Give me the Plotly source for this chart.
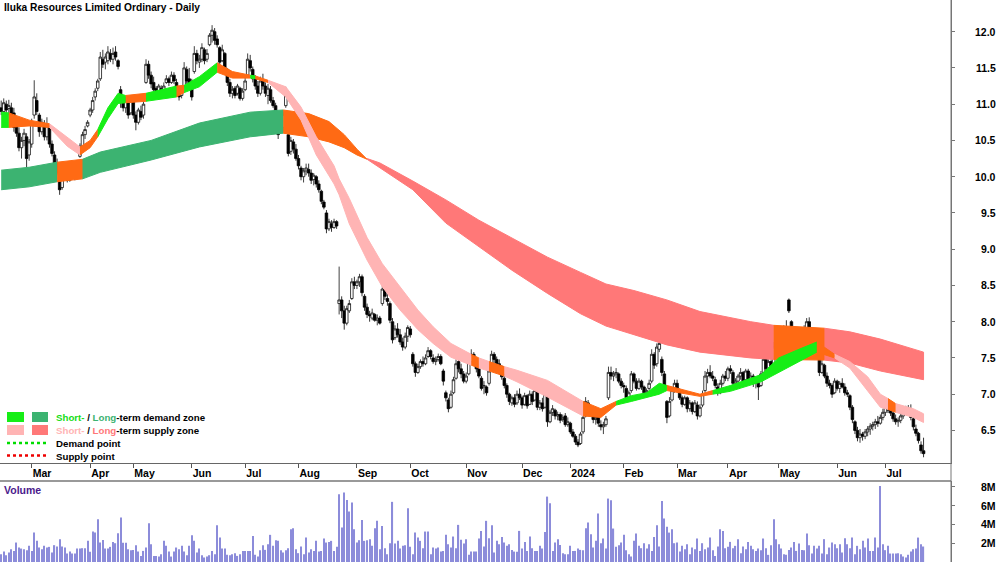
import pandas as pd
import plotly.graph_objects as go

W, H = 1000, 562

# ---------------- daily prices (session 0 = 13 Feb 2023) ----------------
opens = [
    10.95, 10.90, 11.00, 10.94, 10.95, 10.88, 10.70, 10.60, 10.40, 10.50,
    10.55, 10.30, 10.45, 10.85, 11.05, 10.85, 10.62, 10.72, 10.55, 10.68,
    10.45, 10.30, 10.18, 10.00, 9.85, 10.05, 10.02, 9.95, 10.10, 10.00,
    10.08, 10.28, 10.42, 10.58, 10.70, 10.85, 10.92, 11.10, 11.22, 11.35,
    11.62, 11.58, 11.60, 11.70, 11.62, 11.72, 11.60, 11.20, 11.05, 10.95,
    11.02, 10.88, 11.05, 10.85, 10.75, 10.90, 10.85, 11.30, 11.55, 11.40,
    11.30, 11.22, 11.15, 11.22, 11.12, 11.30, 11.35, 11.30, 11.40, 11.30,
    11.15, 11.12, 11.25, 11.48, 11.35, 11.28, 11.45, 11.70, 11.58, 11.62,
    11.75, 11.62, 11.82, 11.95, 12.00, 11.90, 11.78, 11.60, 11.70, 11.48,
    11.30, 11.15, 11.22, 11.15, 11.22, 11.08, 11.20, 11.40, 11.60, 11.48,
    11.35, 11.25, 11.15, 11.32, 11.25, 11.12, 11.20, 11.05, 10.98, 10.75,
    10.62, 10.68, 10.98, 10.58, 10.35, 10.48, 10.38, 10.25, 10.12, 10.00,
    10.08, 10.10, 10.05, 9.96, 10.00, 9.90, 9.80, 9.65, 9.50, 9.28,
    9.35, 9.30, 9.38, 8.25, 8.30, 8.15, 7.98, 8.15, 8.32, 8.55,
    8.50, 8.55, 8.62, 8.35, 8.20, 8.10, 8.05, 8.10, 8.02, 8.05,
    8.25, 8.45, 8.32, 8.25, 8.00, 7.78, 7.90, 7.82, 7.72, 7.65,
    7.80, 7.90, 7.55, 7.42, 7.30, 7.38, 7.45, 7.42, 7.52, 7.60,
    7.50, 7.45, 7.48, 7.52, 7.32, 7.02, 6.92, 6.82, 7.02, 7.22,
    7.45, 7.35, 7.28, 7.18, 7.28, 7.45, 7.55, 7.42, 7.35, 7.22,
    7.10, 7.10, 7.15, 7.35, 7.55, 7.48, 7.42, 7.38, 7.22, 7.12,
    7.00, 6.88, 6.95, 6.88, 7.00, 6.95, 6.86, 6.98, 6.86, 7.00,
    6.92, 7.05, 6.82, 6.88, 6.82, 6.98, 6.62, 6.75, 6.78, 6.70,
    6.72, 6.65, 6.70, 6.58, 6.60, 6.48, 6.42, 6.34, 6.32, 6.48,
    6.70, 6.88, 6.80, 6.72, 6.65, 6.68, 6.58, 6.55, 6.58, 6.95,
    7.30, 7.25, 7.28, 7.28, 7.18, 7.12, 7.08, 6.95, 7.05, 7.28,
    7.18, 7.08, 7.18, 7.10, 7.02, 7.08, 7.18, 7.55, 7.42, 7.62,
    7.48, 7.28, 6.90, 6.70, 6.92, 7.05, 7.15, 7.05, 6.95, 6.86,
    6.95, 6.80, 6.88, 6.76, 6.85, 6.70, 6.85, 7.05, 7.25, 7.30,
    7.25, 7.20, 7.10, 7.02, 7.15, 7.25, 7.22, 7.35, 7.30, 7.15,
    7.18, 7.25, 7.30, 7.20, 7.32, 7.20, 7.25, 7.15, 7.15, 7.12,
    7.30, 7.48, 7.35, 7.45, 7.40, 7.65, 7.58, 7.52, 7.75, 7.92,
    8.30, 8.00, 7.78, 7.85, 7.60, 7.72, 7.88, 7.85, 8.00, 7.85,
    7.80, 7.70, 7.50, 7.30, 7.40, 7.25, 7.15, 7.12, 7.02, 7.18,
    7.08, 7.15, 7.10, 7.02, 6.98, 6.82, 6.62, 6.50, 6.40, 6.45,
    6.42, 6.48, 6.52, 6.56, 6.58, 6.62, 6.60, 6.68, 6.75, 6.82,
    6.78, 6.74, 6.66, 6.62, 6.64, 6.70, 6.76, 6.80, 6.78, 6.66,
    6.52, 6.46, 6.30, 6.22,
]
highs = [
    11.05, 11.08, 11.05, 11.06, 11.02, 10.95, 10.78, 10.68, 10.55, 10.66,
    10.60, 10.52, 10.80, 11.33, 11.15, 10.88, 10.80, 10.78, 10.82, 10.72,
    10.50, 10.35, 10.25, 10.05, 10.12, 10.15, 10.08, 10.18, 10.15, 10.16,
    10.22, 10.46, 10.62, 10.70, 10.78, 10.95, 11.10, 11.22, 11.35, 11.72,
    11.75, 11.70, 11.80, 11.76, 11.78, 11.80, 11.62, 11.25, 11.12, 11.10,
    11.08, 11.12, 11.08, 10.90, 10.95, 10.98, 11.05, 11.62, 11.60, 11.45,
    11.38, 11.25, 11.28, 11.26, 11.30, 11.40, 11.38, 11.45, 11.44, 11.35,
    11.20, 11.22, 11.58, 11.52, 11.50, 11.35, 11.80, 11.75, 11.68, 11.84,
    11.78, 11.76, 11.98, 12.09, 12.05, 11.95, 11.80, 11.82, 11.72, 11.50,
    11.35, 11.25, 11.25, 11.28, 11.24, 11.22, 11.38, 11.70, 11.68, 11.52,
    11.40, 11.32, 11.38, 11.42, 11.30, 11.28, 11.25, 11.10, 11.02, 10.80,
    10.78, 10.90, 11.24, 10.62, 10.55, 10.52, 10.45, 10.30, 10.15, 10.12,
    10.18, 10.18, 10.10, 10.05, 10.02, 9.95, 9.82, 9.68, 9.54, 9.42,
    9.40, 9.42, 9.40, 8.76, 8.35, 8.22, 8.22, 8.30, 8.60, 8.62,
    8.58, 8.66, 8.65, 8.38, 8.25, 8.15, 8.18, 8.12, 8.10, 8.08,
    8.53, 8.48, 8.38, 8.28, 8.05, 7.95, 7.98, 7.90, 7.78, 7.85,
    7.95, 7.94, 7.58, 7.45, 7.42, 7.48, 7.52, 7.55, 7.65, 7.62,
    7.55, 7.52, 7.56, 7.55, 7.35, 7.05, 6.95, 7.05, 7.24, 7.48,
    7.52, 7.42, 7.32, 7.30, 7.48, 7.62, 7.58, 7.48, 7.38, 7.25,
    7.18, 7.12, 7.38, 7.60, 7.58, 7.52, 7.48, 7.40, 7.28, 7.15,
    7.02, 6.98, 7.00, 7.05, 7.08, 6.98, 7.02, 7.00, 7.05, 7.04,
    7.08, 7.08, 6.92, 6.95, 7.06, 7.00, 6.78, 6.85, 6.80, 6.76,
    6.75, 6.72, 6.74, 6.68, 6.62, 6.52, 6.45, 6.38, 6.48, 6.72,
    6.96, 6.92, 6.82, 6.78, 6.72, 6.75, 6.64, 6.62, 6.70, 7.38,
    7.38, 7.32, 7.36, 7.30, 7.22, 7.16, 7.12, 7.05, 7.32, 7.30,
    7.22, 7.22, 7.20, 7.12, 7.08, 7.20, 7.62, 7.58, 7.70, 7.84,
    7.52, 7.32, 6.92, 6.96, 7.08, 7.20, 7.20, 7.08, 6.98, 6.98,
    6.97, 6.92, 6.90, 6.92, 6.90, 6.86, 7.05, 7.32, 7.35, 7.40,
    7.32, 7.24, 7.15, 7.20, 7.28, 7.32, 7.38, 7.40, 7.33, 7.22,
    7.28, 7.36, 7.32, 7.35, 7.35, 7.30, 7.28, 7.22, 7.18, 7.32,
    7.52, 7.50, 7.48, 7.48, 7.72, 7.70, 7.62, 7.80, 7.95, 8.02,
    8.32, 8.02, 7.90, 7.88, 7.78, 7.92, 7.95, 8.05, 8.06, 7.92,
    7.88, 7.72, 7.52, 7.48, 7.42, 7.30, 7.20, 7.15, 7.22, 7.20,
    7.18, 7.22, 7.15, 7.06, 7.00, 6.85, 6.64, 6.55, 6.52, 6.48,
    6.52, 6.56, 6.60, 6.62, 6.66, 6.70, 6.72, 6.80, 6.86, 6.90,
    6.84, 6.78, 6.72, 6.68, 6.74, 6.80, 6.84, 6.85, 6.86, 6.70,
    6.58, 6.48, 6.35, 6.40,
]
lows = [
    10.85, 10.86, 10.88, 10.85, 10.80, 10.62, 10.55, 10.35, 10.25, 10.42,
    10.06, 10.22, 10.40, 10.80, 10.85, 10.55, 10.58, 10.50, 10.50, 10.40,
    10.28, 10.15, 10.02, 9.75, 9.82, 9.95, 9.92, 9.93, 9.98, 9.95,
    10.02, 10.26, 10.40, 10.52, 10.68, 10.82, 10.88, 11.05, 11.18, 11.32,
    11.50, 11.48, 11.55, 11.58, 11.55, 11.60, 11.48, 10.95, 10.90, 10.88,
    10.80, 10.85, 10.80, 10.64, 10.72, 10.78, 10.80, 11.28, 11.35, 11.22,
    11.15, 11.10, 11.12, 11.08, 11.10, 11.28, 11.25, 11.28, 11.28, 11.10,
    11.05, 11.08, 11.22, 11.28, 11.22, 11.05, 11.42, 11.55, 11.50, 11.58,
    11.55, 11.58, 11.80, 11.85, 11.82, 11.78, 11.52, 11.58, 11.45, 11.25,
    11.10, 11.08, 11.08, 11.12, 11.05, 11.05, 11.18, 11.38, 11.45, 11.30,
    11.20, 11.10, 11.12, 11.20, 11.10, 11.00, 11.02, 10.95, 10.70, 10.52,
    10.60, 10.62, 10.95, 10.28, 10.30, 10.32, 10.22, 10.10, 9.95, 9.92,
    10.02, 10.00, 9.90, 9.88, 9.85, 9.78, 9.62, 9.55, 9.22, 9.25,
    9.24, 9.28, 9.28, 8.10, 8.05, 7.89, 7.95, 8.12, 8.30, 8.45,
    8.45, 8.48, 8.35, 8.15, 8.05, 8.00, 8.02, 8.00, 7.95, 7.96,
    8.22, 8.30, 8.22, 7.98, 7.70, 7.75, 7.78, 7.68, 7.60, 7.62,
    7.72, 7.78, 7.38, 7.24, 7.28, 7.35, 7.38, 7.40, 7.50, 7.48,
    7.42, 7.40, 7.45, 7.40, 7.12, 6.90, 6.75, 6.80, 7.00, 7.20,
    7.30, 7.22, 7.15, 7.15, 7.26, 7.42, 7.40, 7.30, 7.22, 7.05,
    7.00, 6.98, 7.12, 7.32, 7.42, 7.38, 7.32, 7.20, 7.08, 6.95,
    6.85, 6.84, 6.82, 6.85, 6.92, 6.80, 6.84, 6.80, 6.85, 6.85,
    6.90, 6.78, 6.78, 6.76, 6.80, 6.55, 6.60, 6.70, 6.65, 6.64,
    6.60, 6.62, 6.55, 6.55, 6.45, 6.40, 6.30, 6.27, 6.30, 6.45,
    6.68, 6.75, 6.70, 6.60, 6.58, 6.55, 6.50, 6.45, 6.55, 6.92,
    7.20, 7.18, 7.22, 7.15, 7.08, 7.02, 6.92, 6.92, 7.02, 7.15,
    7.05, 7.06, 7.06, 6.98, 6.98, 7.05, 7.15, 7.35, 7.38, 7.58,
    7.25, 7.05, 6.60, 6.68, 6.90, 7.02, 7.05, 6.92, 6.82, 6.84,
    6.75, 6.76, 6.72, 6.74, 6.65, 6.68, 6.82, 7.02, 7.15, 7.22,
    7.18, 7.08, 6.98, 7.00, 7.12, 7.18, 7.18, 7.28, 7.12, 7.08,
    7.15, 7.20, 7.15, 7.18, 7.15, 7.15, 7.10, 7.08, 6.92, 7.10,
    7.28, 7.30, 7.32, 7.30, 7.38, 7.55, 7.45, 7.50, 7.70, 7.72,
    8.12, 7.72, 7.68, 7.55, 7.58, 7.70, 7.80, 7.82, 7.80, 7.72,
    7.65, 7.55, 7.25, 7.28, 7.22, 7.10, 7.08, 6.95, 7.00, 7.05,
    7.02, 7.08, 6.98, 6.96, 6.78, 6.60, 6.45, 6.35, 6.33, 6.36,
    6.38, 6.42, 6.44, 6.50, 6.52, 6.55, 6.58, 6.64, 6.70, 6.74,
    6.70, 6.62, 6.58, 6.55, 6.60, 6.66, 6.72, 6.72, 6.64, 6.50,
    6.42, 6.32, 6.18, 6.13,
]
closes = [
    10.90, 11.02, 10.92, 10.98, 10.85, 10.68, 10.60, 10.40, 10.50, 10.60,
    10.25, 10.48, 10.75, 11.10, 10.90, 10.62, 10.75, 10.55, 10.70, 10.45,
    10.32, 10.18, 10.05, 9.82, 10.08, 10.00, 9.95, 10.12, 10.02, 10.10,
    10.18, 10.42, 10.58, 10.65, 10.75, 10.92, 11.05, 11.18, 11.32, 11.65,
    11.55, 11.65, 11.72, 11.62, 11.70, 11.65, 11.52, 11.05, 10.95, 11.05,
    10.85, 11.05, 10.85, 10.75, 10.92, 10.82, 11.00, 11.55, 11.40, 11.28,
    11.20, 11.15, 11.25, 11.12, 11.25, 11.35, 11.30, 11.40, 11.32, 11.15,
    11.10, 11.18, 11.50, 11.32, 11.28, 11.10, 11.70, 11.60, 11.62, 11.78,
    11.60, 11.70, 11.95, 12.02, 11.88, 11.82, 11.58, 11.75, 11.50, 11.30,
    11.15, 11.20, 11.12, 11.25, 11.08, 11.18, 11.32, 11.62, 11.50, 11.35,
    11.25, 11.15, 11.32, 11.25, 11.15, 11.22, 11.05, 10.98, 10.75, 10.58,
    10.72, 10.86, 11.12, 10.32, 10.50, 10.38, 10.25, 10.15, 10.00, 10.08,
    10.12, 10.05, 9.95, 10.02, 9.90, 9.82, 9.66, 9.58, 9.28, 9.38,
    9.30, 9.38, 9.32, 8.30, 8.15, 7.98, 8.18, 8.25, 8.55, 8.50,
    8.55, 8.62, 8.40, 8.20, 8.10, 8.08, 8.12, 8.02, 8.05, 7.98,
    8.45, 8.35, 8.28, 8.02, 7.75, 7.90, 7.82, 7.72, 7.65, 7.80,
    7.92, 7.82, 7.42, 7.30, 7.38, 7.45, 7.42, 7.50, 7.60, 7.52,
    7.45, 7.48, 7.52, 7.42, 7.18, 6.95, 6.80, 7.00, 7.20, 7.42,
    7.35, 7.28, 7.18, 7.25, 7.45, 7.55, 7.45, 7.35, 7.25, 7.08,
    7.12, 7.02, 7.32, 7.55, 7.48, 7.42, 7.38, 7.24, 7.12, 7.00,
    6.90, 6.95, 6.86, 7.00, 6.95, 6.85, 6.98, 6.84, 7.00, 6.90,
    7.05, 6.82, 6.88, 6.80, 7.00, 6.62, 6.75, 6.80, 6.70, 6.72,
    6.64, 6.68, 6.58, 6.62, 6.48, 6.42, 6.34, 6.30, 6.45, 6.68,
    6.90, 6.80, 6.72, 6.65, 6.68, 6.60, 6.55, 6.58, 6.66, 7.30,
    7.25, 7.28, 7.30, 7.18, 7.12, 7.10, 6.95, 7.02, 7.28, 7.18,
    7.08, 7.18, 7.10, 7.02, 7.05, 7.15, 7.55, 7.40, 7.65, 7.70,
    7.30, 7.10, 6.68, 6.90, 7.05, 7.15, 7.08, 6.95, 6.86, 6.95,
    6.80, 6.88, 6.76, 6.88, 6.70, 6.82, 7.00, 7.25, 7.30, 7.25,
    7.22, 7.12, 7.02, 7.15, 7.25, 7.22, 7.35, 7.32, 7.15, 7.18,
    7.25, 7.30, 7.18, 7.32, 7.20, 7.25, 7.15, 7.18, 7.10, 7.28,
    7.48, 7.35, 7.45, 7.34, 7.65, 7.60, 7.50, 7.75, 7.90, 7.78,
    8.15, 7.78, 7.85, 7.60, 7.72, 7.88, 7.84, 8.00, 7.85, 7.78,
    7.70, 7.58, 7.30, 7.42, 7.25, 7.15, 7.12, 7.00, 7.18, 7.08,
    7.15, 7.10, 7.02, 7.00, 6.82, 6.65, 6.50, 6.40, 6.45, 6.42,
    6.48, 6.52, 6.56, 6.58, 6.62, 6.60, 6.68, 6.75, 6.82, 6.78,
    6.74, 6.66, 6.62, 6.64, 6.70, 6.76, 6.80, 6.75, 6.68, 6.55,
    6.46, 6.36, 6.22, 6.18,
]
# daily volume, millions of shares
volume_m = [
    0.83, 1.11, 0.72, 1.00, 1.36, 1.18, 2.07, 1.54, 1.43, 1.36,
    1.26, 1.72, 1.18, 3.13, 2.25, 1.54, 1.36, 1.72, 1.54, 1.61,
    1.00, 1.79, 1.65, 2.43, 1.65, 1.54, 0.90, 1.11, 0.90, 0.90,
    1.43, 1.43, 1.47, 1.47, 2.25, 1.08, 3.24, 3.13, 4.55, 2.07,
    2.35, 1.43, 1.43, 1.61, 2.14, 2.00, 3.06, 4.73, 2.04, 2.04,
    1.36, 1.26, 1.29, 1.79, 1.11, 0.65, 1.18, 1.54, 4.13, 1.89,
    0.65, 0.65, 0.58, 0.83, 2.25, 1.72, 1.11, 0.58, 1.11, 1.54,
    1.36, 1.72, 1.11, 0.72, 1.72, 2.85, 2.25, 1.00, 1.43, 0.72,
    0.48, 0.58, 0.72, 1.18, 0.83, 3.91, 2.60, 1.43, 1.43, 0.76,
    0.72, 0.83, 0.94, 0.65, 0.83, 1.18, 1.18, 1.18, 1.18, 2.78,
    0.76, 0.58, 1.26, 1.79, 1.29, 1.89, 2.89, 1.72, 2.32, 2.25,
    1.26, 1.00, 1.26, 1.47, 3.49, 3.60, 1.36, 0.94, 1.65, 0.83,
    2.60, 1.00, 1.36, 1.18, 2.25, 1.11, 1.18, 2.50, 2.07, 2.14,
    2.25, 1.18, 1.61, 7.21, 3.67, 7.39, 6.61, 5.37, 6.33, 3.49,
    2.07, 2.32, 4.48, 2.25, 2.32, 2.43, 1.72, 3.60, 4.38, 1.36,
    3.84, 1.47, 0.83, 2.00, 6.40, 1.96, 2.25, 1.43, 1.72, 1.79,
    5.72, 1.61, 0.83, 3.13, 2.60, 2.25, 1.47, 3.24, 3.24, 0.83,
    1.54, 1.43, 1.54, 1.11, 1.18, 2.89, 1.89, 1.54, 2.71, 1.47,
    3.95, 2.36, 1.96, 2.43, 0.76,
    1.11, 1.11, 1.11, 2.50, 3.31, 1.65, 4.38, 2.53, 3.91, 1.00,
    2.25, 1.89, 2.67, 2.07, 1.72, 1.89, 1.29, 1.11, 1.08, 3.31,
    1.43, 2.14, 1.18, 2.71, 1.47, 1.18, 1.18, 1.72, 1.43, 3.20,
    6.96, 6.26, 1.18, 2.07, 2.43, 1.82, 0.94, 0.83, 0.83, 1.72,
    1.18, 1.18, 1.43, 1.29, 1.26, 3.60, 4.20, 2.96, 1.54, 2.25,
    5.16, 2.00, 2.50, 1.43, 6.75, 6.57, 3.56, 1.61, 1.79, 2.07,
    2.89, 1.26, 0.83, 0.58, 2.25, 3.03, 1.72, 1.47, 2.00, 1.43,
    1.89, 1.18, 2.67, 3.91, 1.65, 6.50, 4.62, 3.74, 3.13, 3.49,
    2.00, 2.07, 1.11, 1.72, 1.36, 1.89, 0.83, 1.54, 1.36, 2.50,
    1.18, 2.00, 1.36, 1.54, 2.60, 1.26, 0.65, 1.65, 3.49, 3.31,
    1.47, 1.61, 2.14, 1.47, 1.72, 2.43, 0.94, 1.65, 1.36, 2.14,
    1.72, 1.36, 1.18, 1.43, 1.26, 2.50, 1.47, 0.76, 1.79, 4.55,
    2.43, 1.89, 1.43, 0.83, 0.76, 1.29, 1.54, 2.14, 1.18, 1.96,
    1.29, 1.26, 3.03, 1.79, 0.90, 1.72, 1.43, 1.72, 0.90, 2.43,
    0.83, 1.54, 2.07, 1.89, 1.47, 1.89, 1.00, 2.53, 1.89, 1.47,
    2.60, 0.83, 1.72, 1.36, 2.25, 1.54, 2.50, 1.18, 1.18, 2.60,
    1.54, 8.10, 1.89, 1.26, 1.72, 0.90, 0.90, 0.90, 0.94, 0.83,
    0.58, 0.48, 0.76, 1.11, 1.36, 1.43, 2.60, 1.89, 1.65,
]

# ---------------- zone bands (session, upper, lower, state per interval) ----------------
short_sess = [0, 3, 11, 19, 26, 31, 35, 38, 42, 46, 49, 57, 69, 72, 78, 85, 91, 98, 100, 105,
              112, 118, 124, 131, 133, 137, 144, 150, 157, 164, 170, 177, 185, 188, 192, 198, 203, 215, 229, 236,
              242, 248, 254, 259, 262, 275, 280, 287, 299, 306, 314, 321, 328, 334, 341, 346, 349, 352, 359, 363]
short_hi = [10.89, 10.88, 10.78, 10.73, 10.55, 10.41, 10.50, 10.65, 10.95, 11.15, 11.12, 11.15, 11.25, 11.26, 11.38, 11.57, 11.45, 11.40, 11.39, 11.33,
            11.24, 10.96, 10.55, 10.15, 9.97, 9.70, 9.16, 8.80, 8.48, 8.16, 7.93, 7.70, 7.55, 7.50, 7.45, 7.38, 7.33, 7.19, 6.90, 6.80,
            6.90, 6.98, 7.02, 7.15, 7.12, 7.00, 7.05, 7.12, 7.27, 7.50, 7.62, 7.72, 7.55, 7.45, 7.24, 7.00, 6.94, 6.87, 6.80, 6.73]
short_lo = [10.68, 10.68, 10.70, 10.68, 10.42, 10.30, 10.40, 10.55, 10.80, 11.01, 11.02, 11.04, 11.10, 11.16, 11.24, 11.44, 11.36, 11.36, 11.35, 11.30,
            11.10, 10.78, 10.30, 9.90, 9.75, 9.35, 8.85, 8.48, 8.16, 7.89, 7.70, 7.51, 7.40, 7.36, 7.32, 7.25, 7.17, 6.96, 6.70, 6.68,
            6.85, 6.90, 6.95, 7.00, 7.05, 6.97, 7.00, 7.04, 7.17, 7.31, 7.45, 7.58, 7.50, 7.36, 7.05, 6.82, 6.79, 6.75, 6.68, 6.61]
short_state = list("DTTSSTTDDDTDTDDTTDTSSSSSSSSSSSSSTSTSSSTTDDDDTTDDDDDTSSSSTSS")

long_sess = [0, 11, 22, 32, 39, 59, 78, 98, 111, 121, 129, 135, 140, 144, 149, 162, 175, 188, 201, 215,
             228, 238, 249, 262, 275, 295, 304, 324, 334, 346, 363]
long_hi = [10.09, 10.13, 10.20, 10.24, 10.34, 10.50, 10.74, 10.89, 10.92, 10.87, 10.76, 10.58, 10.38, 10.25, 10.19,
           9.94, 9.68, 9.40, 9.15, 8.89, 8.68, 8.52, 8.43, 8.30, 8.14, 8.00, 7.95, 7.91, 7.86, 7.76, 7.58]
long_lo = [9.82, 9.86, 9.93, 9.97, 10.06, 10.23, 10.41, 10.55, 10.60, 10.55, 10.48, 10.40, 10.30, 10.24, 10.12,
           9.82, 9.36, 9.03, 8.71, 8.39, 8.11, 7.94, 7.82, 7.68, 7.58, 7.50, 7.48, 7.47, 7.43, 7.32, 7.20]
long_state = list("DDTDDDDDTTTTTSSSSSSSSSSSSSTSSS")

price_ticks = [6.0, 6.5, 7.0, 7.5, 8.0, 8.5, 9.0, 9.5, 10.0, 10.5, 11.0, 11.5, 12.0]
volume_ticks = [2, 4, 6, 8]

# ---------------- trading calendar ----------------
asx_holidays = {"2023-04-07", "2023-04-10", "2023-04-25", "2023-06-12", "2023-12-25", "2023-12-26",
                "2024-01-01", "2024-01-26", "2024-03-29", "2024-04-01", "2024-04-25", "2024-06-10"}
cal = [d for d in pd.bdate_range("2023-02-13", "2024-08-30") if d.strftime("%Y-%m-%d") not in asx_holidays]
n = len(closes)
days = cal[:n]
sessions = list(range(n))

tick_vals, tick_text = [], []
for i in range(1, n):
    if days[i].month != days[i - 1].month:
        tick_vals.append(sessions[i])
        tick_text.append(str(days[i].year) if days[i].month == 1 else days[i].strftime("%b"))

FONT = "Liberation Sans, Arial, sans-serif"
PAL_SHORT = {"D": "#16EE16", "T": "#FF6A14", "S": "#FFB4B4"}
PAL_LONG = {"D": "#3CB371", "T": "#FF6A14", "S": "#FF7878"}


def band_traces(xs, hi, lo, states, pal):
    out = []
    start = 0
    for k in range(1, len(states) + 1):
        if k == len(states) or states[k] != states[start]:
            a, b = start, k
            sx = xs[a:b + 1]
            px = sx + sx[::-1]
            py = hi[a:b + 1] + lo[a:b + 1][::-1]
            c = pal[states[start]]
            out.append(go.Scatter(x=px, y=py, mode="lines", fill="toself", fillcolor=c,
                                  line=dict(color=c, width=1), hoverinfo="skip",
                                  showlegend=False, xaxis="x", yaxis="y"))
            start = k
    return out


fig = go.Figure()
for t in band_traces(long_sess, long_hi, long_lo, long_state, PAL_LONG):
    fig.add_trace(t)
for t in band_traces(short_sess, short_hi, short_lo, short_state, PAL_SHORT):
    fig.add_trace(t)

fig.add_trace(go.Candlestick(
    x=sessions, open=opens, high=highs, low=lows, close=closes,
    increasing=dict(line=dict(color="#111111", width=0.8), fillcolor="white"),
    decreasing=dict(line=dict(color="black", width=0.8), fillcolor="black"),
    whiskerwidth=0, hoverinfo="skip", showlegend=False, xaxis="x", yaxis="y"))

fig.add_trace(go.Bar(x=sessions, y=volume_m, width=0.45, marker=dict(color="#8C8CDA", line=dict(width=0)),
                     hoverinfo="skip", showlegend=False, xaxis="x2", yaxis="y2"))

XR = [-0.47, 373.8]
PLOT_R = 951 / W
price_bottom_px = 463
vol_top_px = 481

fig.update_layout(
    width=W, height=H, margin=dict(l=0, r=0, t=0, b=0),
    paper_bgcolor="white", plot_bgcolor="white", showlegend=False,
    boxgap=0, boxgroupgap=0,
    font=dict(family=FONT, size=10.5, color="black"),
    xaxis=dict(domain=[0, PLOT_R], range=XR, anchor="y", tickvals=tick_vals, ticktext=tick_text,
               ticks="outside", ticklen=4, tickcolor="#555", showline=True, linecolor="#666", linewidth=1,
               showgrid=False, zeroline=False, ticklabelposition="outside right",
               tickfont=dict(family=FONT, size=10.5, color="black", weight="bold"),
               rangeslider=dict(visible=False), fixedrange=True),
    yaxis=dict(domain=[1 - price_bottom_px / H, 1], range=[6.051, 12.437], anchor="x", side="right",
               showline=True, linecolor="#777", linewidth=1, ticks="outside", ticklen=3, tickcolor="#777",
               tickvals=price_ticks, showticklabels=False, showgrid=False, zeroline=False, fixedrange=True),
    xaxis2=dict(domain=[0, PLOT_R], range=XR, anchor="y2", showticklabels=False, showline=False,
                showgrid=False, zeroline=False, ticks="", fixedrange=True),
    yaxis2=dict(domain=[0, 1 - vol_top_px / H], range=[0, 8.62], anchor="x2", side="right",
                showline=True, linecolor="#777", linewidth=1, ticks="outside", ticklen=3, tickcolor="#777",
                tickvals=volume_ticks, showticklabels=False, showgrid=False, zeroline=False, fixedrange=True),
)


def pxx(x):
    return x / W


def pxy(y):
    return 1 - y / H


shapes = [
    dict(type="line", xref="paper", yref="paper", x0=PLOT_R, x1=PLOT_R, y0=0, y1=1,
         line=dict(color="#777", width=1)),
    dict(type="line", xref="paper", yref="paper", x0=0, x1=PLOT_R, y0=pxy(vol_top_px), y1=pxy(vol_top_px),
         line=dict(color="#777", width=1.5)),
    # legend swatches
    dict(type="rect", xref="paper", yref="paper", x0=pxx(7), x1=pxx(24), y0=pxy(422), y1=pxy(412),
         fillcolor=PAL_SHORT["D"], line=dict(width=0)),
    dict(type="rect", xref="paper", yref="paper", x0=pxx(32), x1=pxx(48), y0=pxy(422), y1=pxy(412),
         fillcolor=PAL_LONG["D"], line=dict(width=0)),
    dict(type="rect", xref="paper", yref="paper", x0=pxx(7), x1=pxx(24), y0=pxy(435), y1=pxy(425),
         fillcolor=PAL_SHORT["S"], line=dict(width=0)),
    dict(type="rect", xref="paper", yref="paper", x0=pxx(32), x1=pxx(48), y0=pxy(435), y1=pxy(425),
         fillcolor=PAL_LONG["S"], line=dict(width=0)),
    dict(type="line", xref="paper", yref="paper", x0=pxx(7), x1=pxx(48), y0=pxy(443), y1=pxy(443),
         line=dict(color="#00DD00", width=2.5, dash="dot")),
    dict(type="line", xref="paper", yref="paper", x0=pxx(7), x1=pxx(48), y0=pxy(455.5), y1=pxy(455.5),
         line=dict(color="#EE0000", width=2.5, dash="dot")),
]

LEG = 9.7
ann = [
    dict(text="<b>Iluka Resources Limited Ordinary - Daily</b>", xref="paper", yref="paper",
         x=pxx(2), y=pxy(7.5), xanchor="left", yanchor="middle", showarrow=False,
         font=dict(family=FONT, size=10.2, color="black")),
    dict(text="<b>Volume</b>", xref="paper", yref="paper", x=pxx(2), y=pxy(490), xanchor="left",
         yanchor="middle", showarrow=False, font=dict(family=FONT, size=10.5, color="#4B1A8C")),
    dict(text='<b><span style="color:%s">Short-</span> / <span style="color:%s">Long</span>-term demand zone</b>'
              % ("#16DD16", PAL_LONG["D"]),
         xref="paper", yref="paper", x=pxx(54), y=pxy(417), xanchor="left", yanchor="middle",
         showarrow=False, font=dict(family=FONT, size=LEG, color="black")),
    dict(text='<b><span style="color:%s">Short-</span> / <span style="color:%s">Long</span>-term supply zone</b>'
              % (PAL_SHORT["S"], PAL_LONG["S"]),
         xref="paper", yref="paper", x=pxx(54), y=pxy(430), xanchor="left", yanchor="middle",
         showarrow=False, font=dict(family=FONT, size=LEG, color="black")),
    dict(text="<b>Demand point</b>", xref="paper", yref="paper", x=pxx(54), y=pxy(443),
         xanchor="left", yanchor="middle", showarrow=False, font=dict(family=FONT, size=LEG, color="black")),
    dict(text="<b>Supply point</b>", xref="paper", yref="paper", x=pxx(54), y=pxy(456),
         xanchor="left", yanchor="middle", showarrow=False, font=dict(family=FONT, size=LEG, color="black")),
]
for p in price_ticks:
    ann.append(dict(text="<b>%.1f</b>" % p, xref="paper", yref="y", x=pxx(998), y=p, xanchor="right",
                    yanchor="middle", showarrow=False, font=dict(family=FONT, size=10.5, color="black")))
for v in volume_ticks:
    ann.append(dict(text="<b>%dM</b>" % v, xref="paper", yref="y2", x=pxx(998), y=v, xanchor="right",
                    yanchor="middle", showarrow=False, font=dict(family=FONT, size=10.5, color="black")))

fig.update_layout(shapes=shapes, annotations=ann)
fig.write_html("out.html")
